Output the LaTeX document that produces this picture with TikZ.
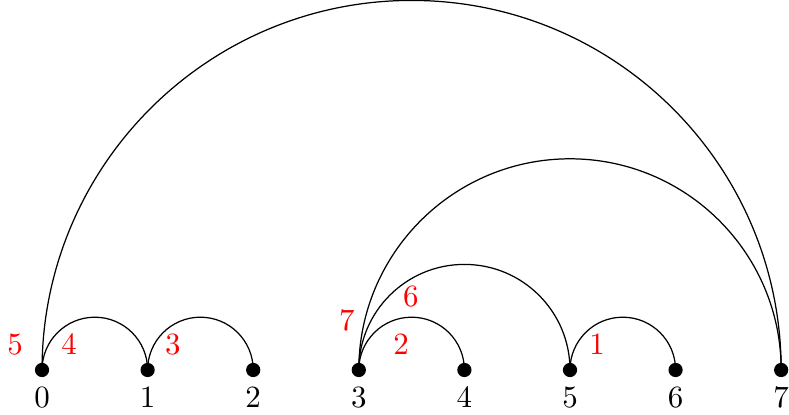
\documentclass[tikz,border=0pt]{standalone}
\begin{document}
\begin{tikzpicture}[x=1.2cm,y=1.2cm,
    vertex/.style={circle,fill=black,inner sep=0pt,minimum size=4.6pt},
    weight/.style={red}]
    \useasboundingbox (-0.398,-0.426) rectangle (7.074,3.504);
    % Vértices
    \foreach \i in {0,...,7} {
        \node[vertex] (v\i) at (\i,0) {};
        \node (n\i) at (\i,-0.265) {$\i$};
    }
    % Arcos
    \draw (v0.center) arc[start angle=180,end angle=0,radius=0.5];
    \draw (v1.center) arc[start angle=180,end angle=0,radius=0.5];
    \draw (v3.center) arc[start angle=180,end angle=0,radius=0.5];
    \draw (v5.center) arc[start angle=180,end angle=0,radius=0.5];
    \draw (v3.center) arc[start angle=180,end angle=0,radius=1];
    \draw (v3.center) arc[start angle=180,end angle=0,radius=2];
    \draw (v0.center) arc[start angle=180,end angle=0,radius=3.5];
    % Etiquetas de orden
    \node[weight] (w5) at (-0.256,0.237) {$5$};
    \node[weight] (w4) at (0.256,0.237) {$4$};
    \node[weight] (w3) at (1.24,0.237) {$3$};
    \node[weight] (w7) at (2.886,0.473) {$7$};
    \node[weight] (w6) at (3.494,0.70) {$6$};
    \node[weight] (w2) at (3.40,0.237) {$2$};
    \node[weight] (w1) at (5.256,0.237) {$1$};
\end{tikzpicture}
\end{document}
